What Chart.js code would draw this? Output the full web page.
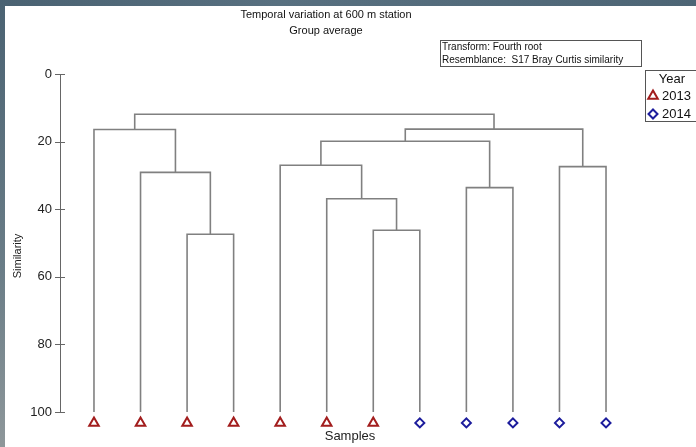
<!DOCTYPE html>
<html><head><meta charset="utf-8">
<script src="https://cdn.jsdelivr.net/npm/chart.js@4.4.1/dist/chart.umd.min.js"></script>
<style>
html,body{margin:0;padding:0;background:#fff;overflow:hidden}
#wrap{position:relative;width:696px;height:447px;background:#fff}
canvas{position:absolute;left:0;top:0}
.strip-top{position:absolute;left:0;top:0;width:696px;height:6px;background:linear-gradient(90deg,#4a6272,#587080 40%,#4d6575)}
.strip-left{position:absolute;left:0;top:0;width:5px;height:447px;background:linear-gradient(180deg,#4a6272,#6a7d87 60%,#8e979a)}
</style></head>
<body><div id="wrap"><canvas id="c" width="696" height="447"></canvas><div class="strip-top"></div><div class="strip-left"></div></div>
<script>
// ---- data ----
const sampleYears = [2013,2013,2013,2013,2013,2013,2013,2014,2014,2014,2014,2014];
const yearLabels = ['2013','2014'];
// merges: [child A, child B, similarity]; children index leaves 0..11 then merged nodes 12..
const mergeA = [6, 2, 5, 8, 1, 10, 4, 18, 0, 19, 20];
const mergeB = [7, 3, 12, 9, 13, 11, 14, 15, 16, 17, 21];
const mergeSim = [46.2, 47.4, 36.9, 33.6, 29.1, 27.4, 27.0, 19.9, 16.4, 16.3, 11.9];
const yTicks = [0, 20, 40, 60, 80, 100];
const leafSim = 100;
const markerLevel = 103.2;

const FONT = '"Liberation Sans", Arial, sans-serif';
const RED = '#a21d1d', BLUE = '#1c1c9c', LINK = '#808080';

// build dendrogram links via node positions (midpoints of children)
const nLeaf = sampleYears.length;
const pos = [], hgt = [];
for (let i = 0; i < nLeaf; i++) { pos.push(i); hgt.push(leafSim); }
const linkSets = [];
for (let k = 0; k < mergeSim.length; k++) {
  const a = mergeA[k], b = mergeB[k], s = mergeSim[k];
  linkSets.push({
    type: 'scatter', showLine: true, pointRadius: 0, borderColor: LINK, borderWidth: 1.6,
    fill: false, tension: 0, clip: false,
    data: [{x: pos[a], y: hgt[a]}, {x: pos[a], y: s}, {x: pos[b], y: s}, {x: pos[b], y: hgt[b]}]
  });
  pos.push((pos[a] + pos[b]) / 2); hgt.push(s);
}
const markerSets = yearLabels.map((yr, j) => ({
  type: 'scatter', label: yr, showLine: false, clip: false,
  pointStyle: j === 0 ? 'triangle' : 'rectRot',
  pointRadius: j === 0 ? 5.5 : 4.5,
  pointBorderWidth: 2,
  pointBackgroundColor: 'rgba(255,255,255,0)',
  pointBorderColor: j === 0 ? RED : BLUE,
  data: sampleYears.map((y, i) => String(y) === yr ? {x: i, y: markerLevel} : null).filter(Boolean)
}));

const decor = {
  id: 'decor',
  afterDraw(chart) {
    const ctx = chart.ctx, ys = chart.scales.y;
    ctx.save();
    // axis line from first to last tick, with tick marks crossing it
    ctx.strokeStyle = '#666'; ctx.lineWidth = 1;
    const ax = Math.round(ys.right) + 0.5;
    const p0 = Math.round(ys.getPixelForValue(yTicks[0])) + 0.5;
    const p1 = Math.round(ys.getPixelForValue(yTicks[yTicks.length - 1])) + 0.5;
    ctx.beginPath();
    ctx.moveTo(ax, p0); ctx.lineTo(ax, p1);
    yTicks.forEach(v => { const p = Math.round(ys.getPixelForValue(v)) + 0.5; ctx.moveTo(ys.right - 5, p); ctx.lineTo(ys.right + 5, p); });
    ctx.stroke();
    // titles
    ctx.fillStyle = '#111'; ctx.textAlign = 'center'; ctx.textBaseline = 'middle';
    ctx.font = '11px ' + FONT;
    ctx.fillText('Temporal variation at 600 m station', 326, 15);
    ctx.fillText('Group average', 326, 31);
    // y-axis title
    ctx.save(); ctx.translate(18, 256); ctx.rotate(-Math.PI / 2);
    ctx.fillStyle = '#222'; ctx.fillText('Similarity', 0, 0); ctx.restore();
    // annotation box
    ctx.strokeStyle = '#555'; ctx.strokeRect(440.5, 40.5, 201, 26);
    ctx.textAlign = 'left'; ctx.font = '10px ' + FONT; ctx.fillStyle = '#111';
    ctx.fillText('Transform: Fourth root', 442, 47);
    ctx.fillText('Resemblance:  S17 Bray Curtis similarity', 442, 60);
    // legend
    ctx.strokeRect(645.5, 70.5, 60, 51);
    ctx.font = '13px ' + FONT; ctx.textAlign = 'center';
    ctx.fillText('Year', 672, 79);
    ctx.textAlign = 'left';
    ctx.fillText(yearLabels[0], 662, 96);
    ctx.fillText(yearLabels[1], 662, 114);
    ctx.lineWidth = 2;
    ctx.strokeStyle = RED; ctx.beginPath();
    const tx = 653, ty = 96, r = 5.5;
    ctx.moveTo(tx, ty - r); ctx.lineTo(tx + r * 0.866, ty + r * 0.5); ctx.lineTo(tx - r * 0.866, ty + r * 0.5); ctx.closePath(); ctx.stroke();
    ctx.strokeStyle = BLUE; ctx.beginPath();
    const dx = 653, dy = 114, d = 4.5;
    ctx.moveTo(dx, dy - d); ctx.lineTo(dx + d, dy); ctx.lineTo(dx, dy + d); ctx.lineTo(dx - d, dy); ctx.closePath(); ctx.stroke();
    ctx.restore();
  }
};

new Chart(document.getElementById('c'), {
  type: 'scatter',
  data: { datasets: [...linkSets, ...markerSets] },
  options: {
    responsive: false, animation: false, devicePixelRatio: 1,
    layout: { padding: { top: 74, right: 56, left: 0, bottom: 0 } },
    plugins: { legend: { display: false }, tooltip: { enabled: false } },
    scales: {
      x: {
        type: 'linear', min: -0.73, max: 11.73,
        grid: { display: false }, border: { display: false }, ticks: { display: false },
        title: { display: true, text: 'Samples', color: '#222', font: { size: 13, family: FONT }, padding: { top: 0, bottom: 3 } },
        afterFit(s) { s.height = 18; }
      },
      y: {
        type: 'linear', min: 0, max: 105, reverse: true,
        afterFit(s) { s.width = 60; },
        afterBuildTicks(s) { s.ticks = yTicks.map(v => ({ value: v })); },
        ticks: { color: '#222', font: { size: 13, family: FONT }, padding: 3 },
        grid: { display: false, drawOnChartArea: false, tickLength: 5 },
        border: { display: false },
        title: { display: false }
      }
    }
  },
  plugins: [decor]
});
</script>
</body></html>
